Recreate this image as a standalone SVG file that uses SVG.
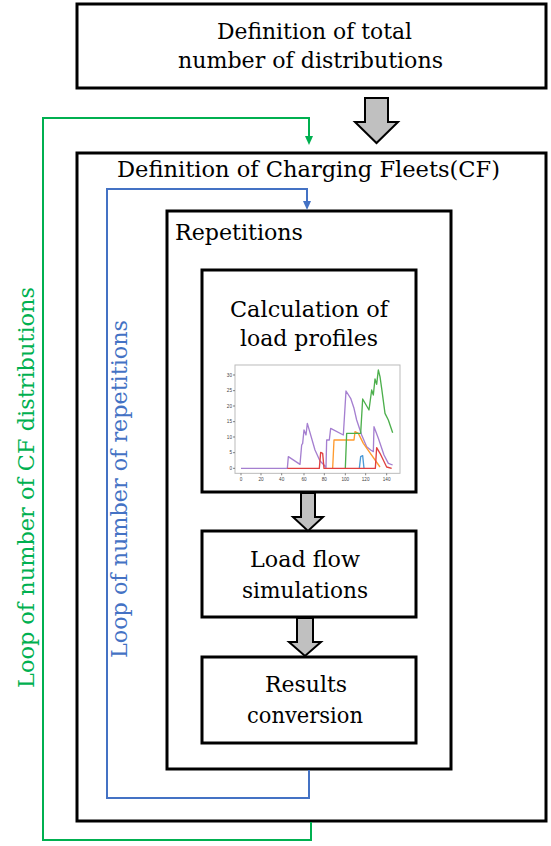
<svg xmlns="http://www.w3.org/2000/svg" width="551" height="846" viewBox="0 0 551 846">
<style>
.box{fill:#fff;stroke:#000;stroke-width:3}
.t{font-family:'DejaVu Serif','Liberation Serif',serif;font-size:22px;fill:#000}
.g{fill:#00b050}
.b{fill:#4472c4}
.garrow{fill:#c0c0c0;stroke:#000;stroke-width:2;stroke-linejoin:miter}
.gl{fill:none;stroke:#00b050;stroke-width:2}
.bl{fill:none;stroke:#4472c4;stroke-width:2}
.tick{font-family:'Liberation Sans',Arial,sans-serif;font-size:14px;fill:#444}
.cl{fill:none;stroke-width:4;stroke-linejoin:round}
</style>
<rect width="551" height="846" fill="#fff"/>

<g id="n-total">
<rect class="box" x="77" y="4" width="469" height="84"/>
<text class="t" x="217" y="39" textLength="195" lengthAdjust="spacingAndGlyphs">Definition of total</text>
<text class="t" x="178" y="68" textLength="265" lengthAdjust="spacingAndGlyphs">number of distributions</text>
</g>

<g id="n-cf">
<rect class="box" x="77" y="153" width="469" height="668"/>
<text class="t" x="117" y="177" textLength="383" lengthAdjust="spacingAndGlyphs">Definition of Charging Fleets(CF)</text>
</g>

<g id="n-rep">
<rect class="box" x="167" y="211" width="284" height="558"/>
<text class="t" x="175" y="240" textLength="128" lengthAdjust="spacingAndGlyphs">Repetitions</text>
</g>

<g id="n-calc">
<rect class="box" x="202" y="270" width="214" height="222"/>
<text class="t" x="230" y="317" textLength="158" lengthAdjust="spacingAndGlyphs">Calculation of</text>
<text class="t" x="240" y="346" textLength="138" lengthAdjust="spacingAndGlyphs">load profiles</text>
<g id="chart" transform="translate(200,355) scale(0.33333)">
<rect x="105" y="30" width="495" height="325" fill="#fff" stroke="#bbb" stroke-width="3"/>
<g stroke="#444" stroke-width="2">
<path d="M105,60h-6M105,107h-6M105,153h-6M105,200h-6M105,246h-6M105,293h-6M105,340h-6"/>
<path d="M123,355v6M183,355v6M245,355v6M312,355v6M373,355v6M436,355v6M497,355v6M560,355v6"/>
</g>
<g class="tick" text-anchor="end">
<text x="96" y="65">30</text><text x="96" y="112">25</text><text x="96" y="158">20</text><text x="96" y="205">15</text><text x="96" y="251">10</text><text x="96" y="298">5</text><text x="96" y="345">0</text>
</g>
<g class="tick" text-anchor="middle">
<text x="123" y="378">0</text><text x="183" y="378">20</text><text x="245" y="378">40</text><text x="312" y="378">60</text><text x="373" y="378">80</text><text x="436" y="378">100</text><text x="497" y="378">120</text><text x="560" y="378">140</text>
</g>
<path class="cl" stroke="#a57fd0" d="M123,340 L262,340 L265,305 L300,328 L305,270 L308,265 L312,225 L318,240 L322,205 L345,285 L360,318 L372,330 L378,338 L380,255 L388,255 L392,220 L430,240 L438,108 L452,130 L462,160 L470,195 L485,240 L500,275 L512,285 L520,290 L522,215 L535,250 L552,300 L565,325 L578,330"/>
<path class="cl" stroke="#ff9a2e" d="M398,340 L402,255 L462,255 L465,230 L475,235 L490,265 L540,336"/>
<path class="cl" stroke="#4caf4c" d="M436,340 L440,235 L482,235 L488,132 L507,165 L515,105 L520,120 L525,72 L530,88 L535,45 L540,65 L545,100 L555,175 L565,195 L578,233"/>
<path class="cl" stroke="#4a9ad6" d="M478,340 L482,305 L488,302 L492,340"/>
<path class="cl" stroke="#e04040" d="M262,340 L358,340 L362,292 L368,295 L372,340 L526,340 L530,278 L540,295 L560,336 L575,340"/>
</g>
</g>

<g id="n-loadflow">
<rect class="box" x="202" y="531" width="214" height="86"/>
<text class="t" x="250" y="567" textLength="110" lengthAdjust="spacingAndGlyphs">Load flow</text>
<text class="t" x="242" y="598" textLength="126" lengthAdjust="spacingAndGlyphs">simulations</text>
</g>

<g id="n-results">
<rect class="box" x="202" y="657" width="214" height="86"/>
<text class="t" x="265" y="692" textLength="82" lengthAdjust="spacingAndGlyphs">Results</text>
<text class="t" x="247" y="723" textLength="116" lengthAdjust="spacingAndGlyphs">conversion</text>
</g>

<g id="connectors">
<polygon class="garrow" points="365,98 388,98 388,122 398,122 376.5,143 355,122 365,122"/>
<polygon class="garrow" points="301,493 315,493 315,517 323,517 308,531 293,517 301,517"/>
<polygon class="garrow" points="297,618 313,618 313,642 321,642 305,656 289,642 297,642"/>
<path class="gl" d="M311,822 V840 H43 V118 H309 V137"/>
<polygon class="g" points="305,136 313,136 309,145"/>
<path class="bl" d="M309,770 V798 H107 V189 H307 V202"/>
<polygon class="b" points="303,201 311,201 307,210"/>
<text class="t g" transform="translate(34,688) rotate(-90)" x="0" y="0" textLength="401" lengthAdjust="spacingAndGlyphs">Loop of number of CF distributions</text>
<text class="t b" transform="translate(127,658) rotate(-90)" x="0" y="0" textLength="338" lengthAdjust="spacingAndGlyphs">Loop of number of repetitions</text>
</g>
</svg>
